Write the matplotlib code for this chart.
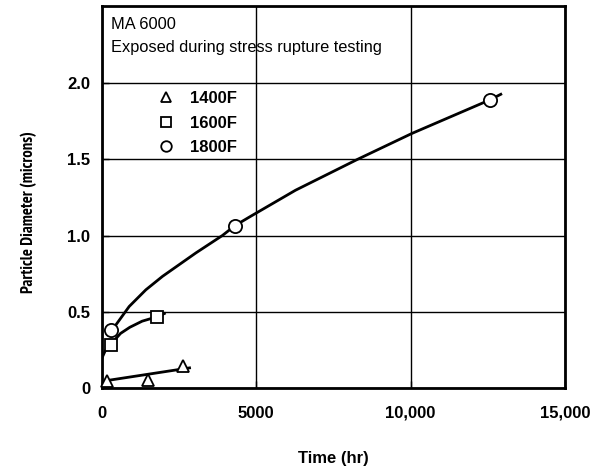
import matplotlib
matplotlib.use("Agg")
import matplotlib.pyplot as plt
from matplotlib.ticker import FixedLocator, FixedFormatter

plt.rcParams['font.family'] = ['Liberation Sans', 'DejaVu Sans']

# measured particle sizes (hours, microns)
t_1400 = [160, 1480, 2610]
d_1400 = [0.05, 0.055, 0.15]
t_1600 = [290, 1770]
d_1600 = [0.285, 0.468]
t_1800 = [290, 4310, 12560]
d_1800 = [0.38, 1.065, 1.886]

# trend curves traced through each temperature
curve_t_1400 = [160, 2880]
curve_d_1400 = [0.052, 0.136]
curve_t_1600 = [0, 100, 290, 600, 900, 1300, 1770, 2020]
curve_d_1600 = [0.20, 0.245, 0.29, 0.36, 0.40, 0.44, 0.468, 0.49]
curve_t_1800 = [290, 450, 880, 1420, 1960, 3040, 3900, 4310, 4820, 6270,
                8270, 10050, 12560, 12920]
curve_d_1800 = [0.38, 0.416, 0.536, 0.645, 0.733, 0.886, 1.0, 1.065, 1.126,
                1.296, 1.497, 1.668, 1.886, 1.923]

x_ticks = [0, 5000, 10000, 15000]
x_labels = ['0', '5000', '10,000', '15,000']
y_ticks = [0, 0.5, 1.0, 1.5, 2.0]
y_labels = ['0', '0.5', '1.0', '1.5', '2.0']

fig = plt.figure(figsize=(5.98, 4.74), dpi=100)
ax = fig.add_axes([0.1706, 0.1804, 0.7742, 0.8069])

ax.set_xlim(0, 15000)
ax.set_ylim(0, 2.5)
ax.xaxis.set_major_locator(FixedLocator(x_ticks))
ax.xaxis.set_major_formatter(FixedFormatter(x_labels))
ax.yaxis.set_major_locator(FixedLocator(y_ticks))
ax.yaxis.set_major_formatter(FixedFormatter(y_labels))
ax.grid(True, color='black', linewidth=1.0)
ax.set_axisbelow(True)
ax.tick_params(direction='in', length=5, width=1, labelsize=12)
ax.tick_params(axis='x', pad=12.5)
ax.tick_params(axis='y', pad=8.5)
for lbl in ax.get_xticklabels() + ax.get_yticklabels():
    lbl.set_fontweight('bold')
for s in ax.spines.values():
    s.set_linewidth(2)

# curves
ax.plot(curve_t_1400, curve_d_1400, color='black', lw=2, solid_capstyle='butt')
ax.plot(curve_t_1600, curve_d_1600, color='black', lw=2)
ax.plot(curve_t_1800, curve_d_1800, color='black', lw=2)

mk = dict(mfc='white', mec='black', mew=1.3, ls='none', clip_on=False, zorder=5)
ax.plot(t_1400, d_1400, marker='^', ms=9, label='1400F', **mk)
ax.plot(t_1600, d_1600, marker='s', ms=8.5, label='1600F', **mk)
ax.plot(t_1800, d_1800, marker='o', ms=9.5, label='1800F', **mk)

leg = ax.legend(loc='upper left', bbox_to_anchor=(0.102, 0.8), frameon=False,
                fontsize=12, handletextpad=0.94, labelspacing=0.58, borderpad=0,
                handlelength=1.0, markerscale=0.8)
for txt in leg.get_texts():
    txt.set_fontweight('bold')

ax.text(0.019, 0.941, 'MA 6000', transform=ax.transAxes, ha='left',
        va='baseline', fontsize=11.8)
ax.text(0.019, 0.881, 'Exposed during stress rupture testing',
        transform=ax.transAxes, ha='left', va='baseline', fontsize=11.8)

ax.set_xlabel('Time (hr)', fontsize=12, fontweight='bold', labelpad=22)
ax.set_ylabel('Particle Diameter (microns)', fontsize=12, fontweight='bold',
              family=['PT Sans Narrow', 'DejaVu Sans'])
ax.yaxis.set_label_coords(-0.140, 0.461)

fig.savefig('out.png', dpi=100)
